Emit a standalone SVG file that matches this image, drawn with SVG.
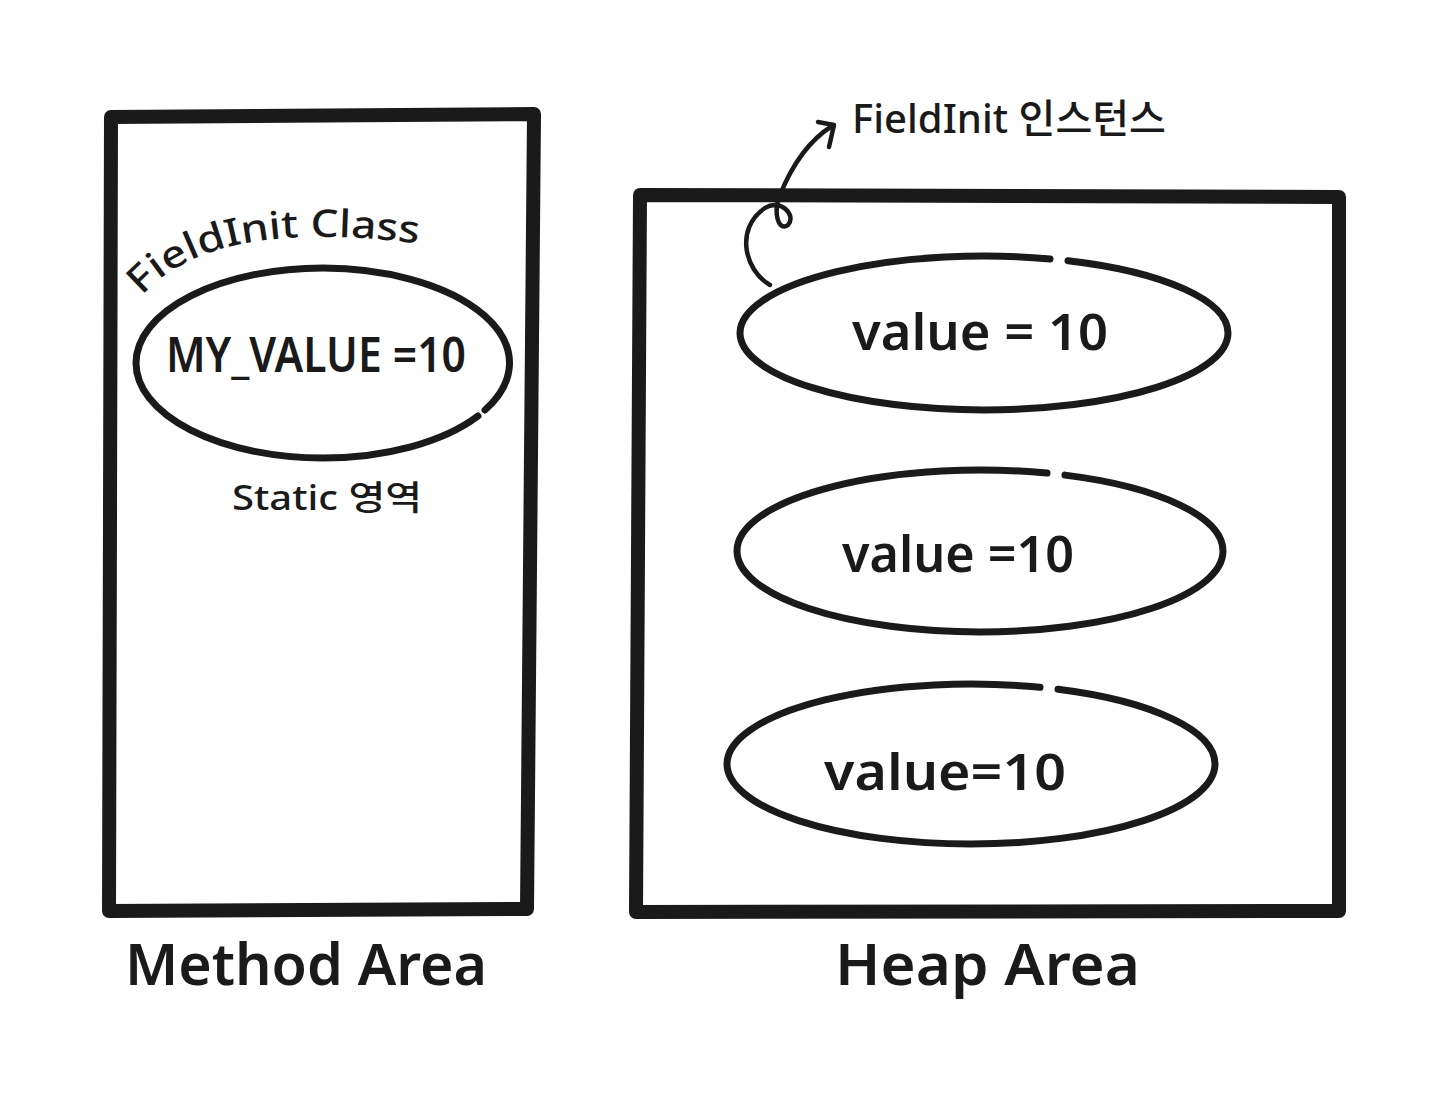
<svg xmlns="http://www.w3.org/2000/svg" width="1440" height="1098" viewBox="0 0 1440 1098">
<style>
.box{fill:none;stroke:#1a1a1a;stroke-width:14;stroke-linejoin:round;stroke-linecap:round}
.oval{fill:none;stroke:#1a1a1a;stroke-width:7;stroke-linecap:round}
.t{font-family:"Noto Sans","Noto Sans CJK KR",sans-serif;fill:#1a1a1a}
.line{fill:none;stroke:#1a1a1a;stroke-width:4.5;stroke-linecap:round;stroke-linejoin:round}
</style>
<defs>
<path id="arcText" d="M142 296 Q212 216 420 244"/>
</defs>
<rect width="1440" height="1098" fill="#ffffff"/>
<g id="method-area">
<path class="box" d="M111 117 L534 114 L527 909 L109 911 Z"/>
<text class="t" x="125" y="985" font-size="58" font-weight="600" textLength="362" lengthAdjust="spacingAndGlyphs">Method Area</text>
</g>
<g id="fieldinit-class">
<path class="oval" d="M485 410 A187 95 0 0 0 323 268 A187 95 0 0 0 136 363 A187 95 0 0 0 323 458 A187 95 0 0 0 478 416"/>
<text class="t" font-size="38" font-weight="500" textLength="292" lengthAdjust="spacingAndGlyphs"><textPath href="#arcText">FieldInit Class</textPath></text>
<text class="t" x="166" y="372" font-size="48" font-weight="600" textLength="300" lengthAdjust="spacingAndGlyphs">MY_VALUE =10</text>
<text class="t" x="232" y="510" font-size="34" font-weight="500" textLength="190" lengthAdjust="spacingAndGlyphs">Static 영역</text>
</g>
<g id="heap-area">
<path class="box" d="M640 195 L1339 197 L1339 911 L636 912 Z"/>
<text class="t" x="835" y="985" font-size="58" font-weight="600" textLength="305" lengthAdjust="spacingAndGlyphs">Heap Area</text>
</g>
<g id="instance-1">
<path class="oval" d="M1068 260.7 A244 77 0 0 1 1228 333 A244 77 0 0 1 984 410 A244 77 0 0 1 740 333 A244 77 0 0 1 1050 258.9"/>
<text class="t" x="852" y="350" font-size="50" font-weight="600" textLength="256" lengthAdjust="spacingAndGlyphs">value = 10</text>
</g>
<g id="instance-2">
<path class="oval" d="M1065 475.1 A243 81 0 0 1 1223 551 A243 81 0 0 1 980 632 A243 81 0 0 1 737 551 A243 81 0 0 1 1047 473.1"/>
<text class="t" x="842" y="572" font-size="50" font-weight="600" textLength="232" lengthAdjust="spacingAndGlyphs">value =10</text>
</g>
<g id="instance-3">
<path class="oval" d="M1058 689.3 A244 80 0 0 1 1215 764 A244 80 0 0 1 971 844 A244 80 0 0 1 727 764 A244 80 0 0 1 1040 687.3"/>
<text class="t" x="824" y="790" font-size="50" font-weight="600" textLength="242" lengthAdjust="spacingAndGlyphs">value=10</text>
</g>
<g id="instance-label">
<text class="t" x="852" y="133" font-size="40" font-weight="500" textLength="314" lengthAdjust="spacingAndGlyphs">FieldInit 인스턴스</text>
</g>
<g id="connectors">
<path class="line" d="M770 285 C744 270 735 228 765 208 C780 198 797 215 788 225 C778 232 773 212 780 195 C792 165 810 140 832 126"/>
<path class="line" d="M818 122 L834 125 L829 147"/>
</g>
</svg>
